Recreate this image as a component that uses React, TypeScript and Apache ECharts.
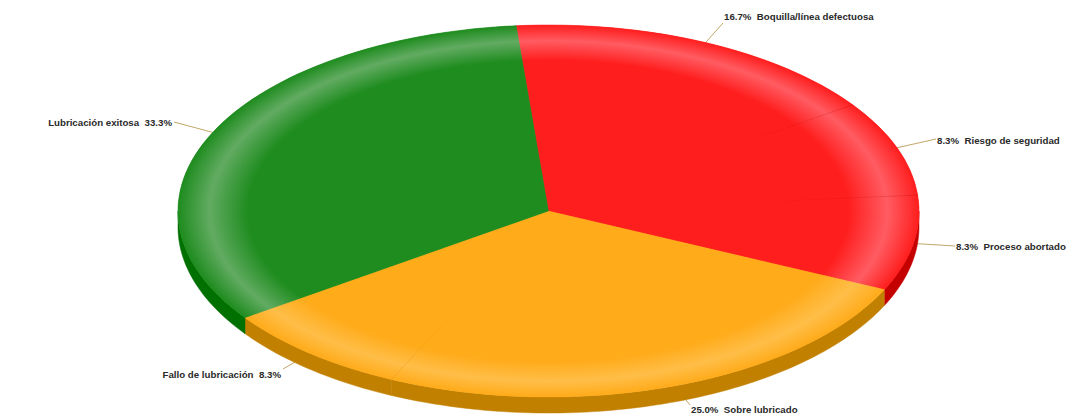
import React, { useEffect, useRef } from "react";
import * as echarts from "echarts";

const categories = ["Boquilla/línea defectuosa", "Riesgo de seguridad", "Proceso abortado", "Sobre lubricado", "Fallo de lubricación", "Lubricación exitosa"];
const values = [16.7, 8.3, 8.3, 25.0, 8.3, 33.3];
const groups = [0, 0, 0, 1, 1, 2];

const topColors = ["#FF1E1E", "#FFAB1A", "#1E8C1E"];
const rimColors = ["#FF5C62", "#FFBE48", "#62AB62"];
const wallColors = ["#C40000", "#C28000", "#007000"];
const sepColors = ["rgba(170,0,0,", "rgba(190,120,0,", "rgba(0,90,0,"];

const CX = 548.5, CY = 211, RX = 370.5, RY = 186, DEPTH = 16;
const START_DEG = -5;
const LABEL_ENDS = [[723, 23], [936, 139], [955, 246], [690, 405], [283, 369], [174, 122]];
const LABEL_POS = [[724, 16], [937, 140], [956, 246], [691, 409], [281, 374], [172, 122]];

const total = values.reduce((a, b) => a + b, 0);
const cum: number[] = [];
values.reduce((a, b, i) => ((cum[i] = a), a + b), 0);
const angle = (i: number) => START_DEG + (cum[i] / total) * 360;
const endAngle = (i: number) => START_DEG + ((cum[i] + values[i]) / total) * 360;
const pt = (deg: number, dy = 0) => {
  const r = (deg * Math.PI) / 180;
  return [CX + RX * Math.sin(r), CY - RY * Math.cos(r) + dy];
};
const data = values.map((v, i) => [i, v]);
const base = { type: "custom", coordinateSystem: "none", data, silent: true, clip: false };

const rimFill = (g: number) => ({
  type: "radial", x: 0, y: 0, r: RX, global: true,
  colorStops: [
    { offset: 0, color: topColors[g] },
    { offset: 0.81, color: topColors[g] },
    { offset: 0.915, color: rimColors[g] },
    { offset: 1, color: topColors[g] },
  ],
});
const sector = (from: number, to: number, g: number) => {
  const fill = rimFill(g);
  return {
    type: "sector",
    x: CX, y: CY, scaleX: 1, scaleY: RY / RX,
    shape: { cx: 0, cy: 0, r0: 0, r: RX, startAngle: ((from - 90) * Math.PI) / 180, endAngle: ((to - 90) * Math.PI) / 180, clockwise: true },
    style: { fill, stroke: fill, lineWidth: 0.4 },
  };
};

export default function App() {
  const ref = useRef<HTMLDivElement>(null);
  useEffect(() => {
    document.body.style.margin = "0";
    const chart = echarts.init(ref.current!, null, { renderer: "svg" });
    chart.setOption({
      animation: false,
      backgroundColor: "#fff",
      series: [
        {
          ...base,
          z: 1,
          renderItem: (p: any) => {
            const i = p.dataIndex;
            const a = pt((angle(i) + endAngle(i)) / 2);
            const e = LABEL_ENDS[i];
            return { type: "line", shape: { x1: a[0], y1: a[1], x2: e[0], y2: e[1] }, style: { stroke: "#C2A868", lineWidth: 1 } };
          },
        },
        {
          ...base,
          z: 2,
          renderItem: (p: any) => {
            const i = p.dataIndex;
            const s = Math.max(angle(i), 90), t = Math.min(endAngle(i), 270);
            if (t <= s) return { type: "group", children: [] };
            const upper: number[][] = [], lower: number[][] = [];
            for (let d = s; d < t; d += 1) { upper.push(pt(d)); lower.push(pt(d, DEPTH)); }
            upper.push(pt(t)); lower.push(pt(t, DEPTH));
            const c = wallColors[groups[i]];
            return { type: "polygon", shape: { points: upper.concat(lower.reverse()) }, style: { fill: c, stroke: c, lineWidth: 0.5 } };
          },
        },
        {
          // same-coloured neighbours share one underlay so no seam shows between them
          ...base,
          z: 3,
          renderItem: (p: any) => {
            const i = p.dataIndex, g = groups[i];
            if (i > 0 && groups[i - 1] === g) return { type: "group", children: [] };
            let last = i;
            while (last + 1 < values.length && groups[last + 1] === g) last++;
            return sector(angle(i), endAngle(last), g);
          },
        },
        {
          ...base,
          z: 4,
          renderItem: (p: any) => {
            const i = p.dataIndex;
            return sector(angle(i), endAngle(i), groups[i]);
          },
        },
        {
          ...base,
          z: 5,
          renderItem: (p: any) => {
            const i = p.dataIndex, g = groups[i];
            if (groups[(i + 1) % values.length] !== g) return { type: "group", children: [] };
            const e = pt(endAngle(i));
            return {
              type: "line",
              shape: { x1: CX, y1: CY, x2: e[0], y2: e[1] },
              style: {
                lineWidth: 0.7,
                stroke: {
                  type: "linear", x: CX, y: CY, x2: e[0], y2: e[1], global: true,
                  colorStops: [
                    { offset: 0, color: sepColors[g] + "0)" },
                    { offset: 0.6, color: sepColors[g] + "0.05)" },
                    { offset: 1, color: sepColors[g] + "0.35)" },
                  ],
                },
              },
            };
          },
        },
        {
          ...base,
          z: 6,
          renderItem: (p: any) => {
            const i = p.dataIndex;
            const pct = values[i].toFixed(1) + "%";
            const leftSide = LABEL_POS[i][0] < CX;
            return {
              type: "text",
              style: {
                x: LABEL_POS[i][0], y: LABEL_POS[i][1],
                text: leftSide ? `${categories[i]}  ${pct}` : `${pct}  ${categories[i]}`,
                align: leftSide ? "right" : "left",
                verticalAlign: "middle",
                fontFamily: "Liberation Sans, Arial, sans-serif",
                fontWeight: "bold",
                fontSize: 9.7,
                fill: "#2a2a2a",
              },
            };
          },
        },
      ],
    });
    return () => chart.dispose();
  }, []);
  return <div ref={ref} style={{ width: 1067, height: 415 }} />;
}
